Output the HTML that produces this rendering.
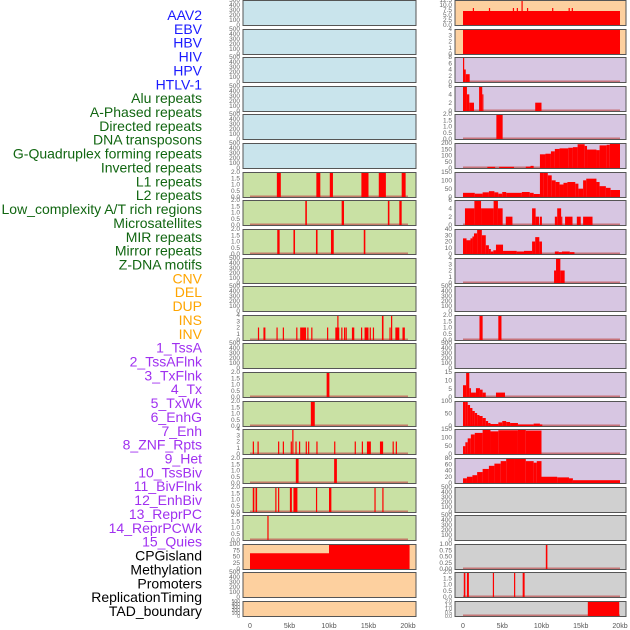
<!DOCTYPE html>
<html><head><meta charset="utf-8">
<style>
body{margin:0;background:#fff;width:630px;height:630px;overflow:hidden;font-family:"Liberation Sans",sans-serif}
svg{display:block}
</style></head>
<body>
<svg id="chart" width="630" height="630" xmlns="http://www.w3.org/2000/svg"></svg>
<script>
// ---- labels ----
const trackNames = ["AAV2","EBV","HBV","HIV","HPV","HTLV-1","Alu repeats","A-Phased repeats","Directed repeats","DNA transposons","G-Quadruplex forming repeats","Inverted repeats","L1 repeats","L2 repeats","Low_complexity A/T rich regions","Microsatellites","MIR repeats","Mirror repeats","Z-DNA motifs","CNV","DEL","DUP","INS","INV","1_TssA","2_TssAFlnk","3_TxFlnk","4_Tx","5_TxWk","6_EnhG","7_Enh","8_ZNF_Rpts","9_Het","10_TssBiv","11_BivFlnk","12_EnhBiv","13_ReprPC","14_ReprPCWk","15_Quies","CPGisland","Methylation","Promoters","ReplicationTiming","TAD_boundary"];
const trackGroups = ["b","b","b","b","b","b","g","g","g","g","g","g","g","g","g","g","g","g","g","o","o","o","o","o","p","p","p","p","p","p","p","p","p","p","p","p","p","p","p","k","k","k","k","k"];
const xTickLabels = ["0","5kb","10kb","15kb","20kb"];
const xTickValues = [0,5,10,15,20];

// ---- tick sets ----
const T500 = [0,100,200,300,400,500];
const T2 = [0,0.5,1,1.5,2];
const T4 = [0,1,2,3,4];

// ---- left panel data: [startKb, endKb, value] ----
const L7 = [[3.4,3.9,2],[8.4,8.9,2],[10.1,10.5,2],[14.1,15.0,2],[16.3,17.2,2],[19.2,19.7,2]];
const L8 = [[7.0,7.2,2],[11.6,11.9,2],[17.45,17.65,2],[18.9,19.2,2]];
const L9 = [[3.45,3.75,2],[5.5,5.7,2],[8.35,8.55,2],[10.25,10.6,2],[14.4,14.6,2]];
const L12 = [[1.0,1.15,2],[1.7,1.95,2],[3.35,3.5,2],[4.15,4.3,2],[5.85,6.0,2],[6.35,7.1,2],[7.25,7.4,2],[7.75,7.9,2],[9.75,9.9,2],[10.8,11.3,2],[11.05,11.15,4],[11.55,11.7,2],[11.9,12.0,2],[12.1,12.2,2],[12.9,13.2,2],[14.05,14.2,2],[14.5,15.0,2],[15.15,15.3,2],[15.55,15.7,2],[16.7,16.9,4],[17.65,17.8,2],[17.85,18.0,4],[18.4,18.9,2],[19.3,19.6,2]];
const L14 = [[9.7,10.05,2]];
const L15 = [[7.7,8.2,2]];
const L16 = [[0.35,0.5,2],[0.95,1.1,2],[3.55,3.7,2],[4.15,4.3,2],[5.15,5.3,2],[5.35,5.5,4],[5.75,5.9,2],[6.2,6.35,2],[7.05,7.2,2],[7.35,7.5,2],[8.4,8.55,2],[10.65,10.8,2],[13.25,13.4,2],[14.15,14.3,2],[14.8,15.3,2],[16.45,16.85,2],[18.05,18.2,2],[18.45,18.6,2]];
const L17 = [[5.8,6.15,2],[10.65,11.0,2]];
const L18 = [[0.35,0.55,2],[0.7,0.9,2],[3.2,3.35,2],[3.55,3.7,2],[5.05,5.3,2],[5.5,6.0,2],[8.35,8.5,2],[10.0,10.3,2],[15.75,15.9,2],[16.75,16.9,2]];
const L19 = [[2.2,2.35,2]];
const L20 = [[0,10,63],[10,20.2,100]];

// ---- right panel data ----
const R1 = [[0,20,7],[1.25,1.4,8.5],[3.3,3.45,8.5],[6.35,6.5,8.5],[6.85,7.0,8.5],[7.45,7.55,12.5],[8.15,8.3,8.5],[11.35,11.5,8.5],[13.45,13.6,8.5],[13.85,14.0,8.5]];
const R2 = [[0,20,4]];
const R3 = [[0,0.1,8],[0.1,0.35,4],[0.35,0.85,2.5]];
const R4 = [[0,0.5,6],[0.5,0.8,4],[0.8,1.4,2],[2.05,2.45,6],[2.45,2.6,4],[9.2,10.0,2]];
const R5 = [[4.25,5.05,2]];
const R6 = [[3.1,4.1,10],[4.6,6.5,10],[8.0,8.6,12],[8.6,9.0,18],[9.8,10.5,115],[10.5,11.2,120],[11.2,11.7,140],[11.7,12.3,160],[12.3,13.4,165],[13.4,14.0,170],[14.0,14.6,175],[14.6,15.5,200],[15.5,15.8,185],[15.8,17.0,155],[17.0,17.4,150],[17.4,18.3,190],[18.3,18.7,195],[18.7,20,210]];
const R7 = [[0,1.5,25],[1.5,2.5,20],[2.5,3.3,28],[3.3,4.0,35],[4.0,4.5,28],[4.5,5.0,20],[5.0,5.5,30],[5.5,7.5,25],[7.5,8.5,30],[8.5,9.0,25],[9.0,9.8,18],[9.8,10.3,150],[10.3,10.8,145],[10.8,11.3,130],[11.3,11.8,100],[11.8,12.3,90],[12.3,12.8,75],[12.8,13.3,85],[13.3,14.3,90],[14.3,14.7,80],[14.7,15.3,50],[15.3,15.7,100],[15.7,17.0,110],[17.0,17.4,90],[17.4,18.2,65],[18.2,18.8,55],[18.8,20,42]];
const R8 = [[0.25,1.45,4],[1.45,2.3,6],[2.3,3.9,4],[3.9,4.45,6],[4.45,5.05,4],[5.45,6.3,2],[8.8,9.25,4],[9.25,9.7,2],[9.8,10.05,2],[11.7,12.0,2],[12.0,12.5,4],[12.5,12.6,2],[13.0,13.95,2],[14.5,15.0,2],[15.3,16.5,2]];
const R9 = [[0,0.45,25],[0.45,0.95,22],[0.95,1.2,25],[1.2,1.4,28],[1.4,1.8,33],[1.8,2.4,40],[2.4,2.9,30],[2.9,3.3,14],[3.3,3.55,8],[3.55,3.86,4],[3.86,4.2,6],[4.2,5.1,15],[5.1,6.84,5],[6.84,7.77,4],[7.77,8.8,5],[8.8,9.2,20],[9.2,9.72,27],[9.72,10.06,20],[11.7,12.2,4],[12.2,12.6,3],[12.6,13.6,4],[13.6,14.2,3]];
const R10 = [[11.6,11.85,2],[11.85,12.4,4],[12.4,12.95,2]];
const R12 = [[2.1,2.5,2],[4.5,4.9,2]];
const R14 = [[0,0.4,8],[0.4,0.8,17],[0.8,1.02,6],[1.02,1.65,3],[1.65,2.16,6],[2.16,2.5,5],[2.5,2.9,3],[4.2,5.35,3]];
const R15 = [[0,0.3,125],[0.3,0.6,120],[0.6,0.9,105],[0.9,1.2,90],[1.2,1.5,75],[1.5,1.8,65],[1.8,2.1,55],[2.1,2.5,50],[2.5,2.9,40],[2.9,3.2,25],[3.2,3.5,15],[3.5,4.5,10],[4.5,5.0,18],[5.0,5.5,25],[5.5,6.0,20],[6.0,7.0,15],[7.0,9.0,8],[9.0,9.8,12],[9.8,10.1,8]];
const R16 = [[0,0.3,50],[0.3,0.6,75],[0.6,1.0,100],[1.0,1.5,125],[1.5,2.5,135],[2.5,3.5,160],[3.5,4.5,145],[4.5,7.0,152],[7.0,8.0,155],[8.0,10.0,150]];
const R17 = [[0,0.5,15],[0.5,1.2,20],[1.2,1.8,25],[1.8,2.5,35],[2.5,3.3,45],[3.3,4.0,55],[4.0,4.8,62],[4.8,5.5,70],[5.5,6.5,78],[6.5,8.0,80],[8.0,9.0,70],[9.0,9.4,65],[9.4,10.0,70],[10.0,12.0,20],[12.0,13.5,18],[13.5,14.0,15],[14.0,20.0,9]];
const R20 = [[10.55,10.75,1]];
const R21 = [[0.1,0.3,2],[0.5,0.75,2],[3.8,3.95,2],[6.5,6.65,2],[7.6,7.85,2]];
const R22 = [[15.9,19.9,2]];

const BLUE="#c9e4ec", GREEN="#c9e1a4", ORANGE="#fdd09f", PURPLE="#d7c6e2", GRAY="#d0d0d0";
// [bg, ticks, max, data, decimals]
const leftRows = [
 [BLUE,T500,500,null,0],[BLUE,T500,500,null,0],[BLUE,T500,500,null,0],[BLUE,T500,500,null,0],[BLUE,T500,500,null,0],[BLUE,T500,500,null,0],
 [GREEN,T2,2,L7,1],[GREEN,T2,2,L8,1],[GREEN,T2,2,L9,1],[GREEN,T500,500,null,0],[GREEN,T500,500,null,0],[GREEN,T4,4,L12,0],[GREEN,T500,500,null,0],
 [GREEN,T2,2,L14,1],[GREEN,T2,2,L15,1],[GREEN,T4,4,L16,0],[GREEN,T2,2,L17,1],[GREEN,T2,2,L18,1],[GREEN,T2,2,L19,1],
 [ORANGE,[0,25,50,75,100],100,L20,0],[ORANGE,T500,500,null,0],[ORANGE,T500,500,null,0]];
const rightRows = [
 [ORANGE,[0,2.5,5,7.5,10,12.5],12.5,R1,1],[ORANGE,T4,4,R2,0],
 [PURPLE,[0,2,4,6,8],8,R3,0],[PURPLE,[0,2,4,6],6,R4,0],[PURPLE,T2,2,R5,1],[PURPLE,[0,50,100,150,200],210,R6,0],
 [PURPLE,[0,50,100,150],150,R7,0],[PURPLE,[0,2,4,6],6,R8,0],[PURPLE,[0,10,20,30,40],40,R9,0],[PURPLE,T4,4,R10,0],
 [PURPLE,T500,500,null,0],[PURPLE,T2,2,R12,1],[PURPLE,T500,500,null,0],[PURPLE,[0,5,10,15],17,R14,0],
 [PURPLE,[0,50,100],125,R15,0],[PURPLE,[0,50,100,150],160,R16,0],[PURPLE,[0,20,40,60,80],80,R17,0],
 [GRAY,T500,500,null,0],[GRAY,T500,500,null,0],[GRAY,[0,0.25,0.5,0.75,1],1,R20,2],[GRAY,T2,2,R21,1],[GRAY,T2,2,R22,1]];

const svg = document.getElementById('chart');
const NS = "http://www.w3.org/2000/svg";
function mk(tag, attrs, parent){const e=document.createElementNS(NS,tag);for(const k in attrs)e.setAttribute(k,attrs[k]);(parent||svg).appendChild(e);return e;}

const colors = {b:"#1a1aff",g:"#116611",o:"#ffa500",p:"#a030f0",k:"#000"};
trackNames.forEach((n,i)=>{
  const t = mk('text',{x:202,y:20+i*13.86,'text-anchor':'end','font-size':14,fill:colors[trackGroups[i]]});
  
  
  t.textContent=n;
});

function drawPanel(side, i, row, x0, x1, zeroX, pxPerKb){
  const [bg,ticks,max,data,dec]=row;
  const top=Math.round(i*28.62), h=(i===21)?15:25, bottom=top+h;
  const g=mk('g',{});
  
  
  mk('rect',{x:x0,y:top+0.5,width:x1-x0,height:h,fill:bg},g);
  const xs=k=>zeroX+k*pxPerKb;
  const ys=v=>bottom-v/max*h;
  if(data){
    mk('rect',{x:xs(0),y:bottom-1.5,width:20*pxPerKb,height:1.5,fill:"#c05050",opacity:0.7},g);
    data.forEach(d=>{
      const r=mk('rect',{x:xs(d[0]),y:ys(d[2]),width:Math.max(1.2,xs(d[1])-xs(d[0])),height:bottom-ys(d[2]),fill:"#ff0000"},g);
      
      
    });
  }
  mk('rect',{x:x0,y:top+0.5,width:x1-x0,height:h,fill:"none",stroke:"#555",'stroke-width':1},g);
  const tmax=ticks[ticks.length-1];
  ticks.forEach(v=>{
    const yy = bottom - v/tmax*h;
    const t=mk('text',{x:x0-3,y:yy+2.2,'text-anchor':'end','font-size':(i===21?5:6.5),fill:"#666"},g);
    
    
    t.textContent = v.toFixed(dec);
  });
}
leftRows.forEach((r,i)=>drawPanel('left',i,r,243,416,250,7.9));
rightRows.forEach((r,i)=>drawPanel('right',i,r,455,626,463,7.85));

[[250,7.9,'left'],[463,7.85,'right']].forEach(([z,p,side])=>{
  xTickValues.forEach((v,j)=>{
    const t=mk('text',{x:z+v*p,y:628,'text-anchor':'middle','font-size':7,fill:"#555"});
    
    
    t.textContent=xTickLabels[j];
  });
});
</script>
</body></html>
